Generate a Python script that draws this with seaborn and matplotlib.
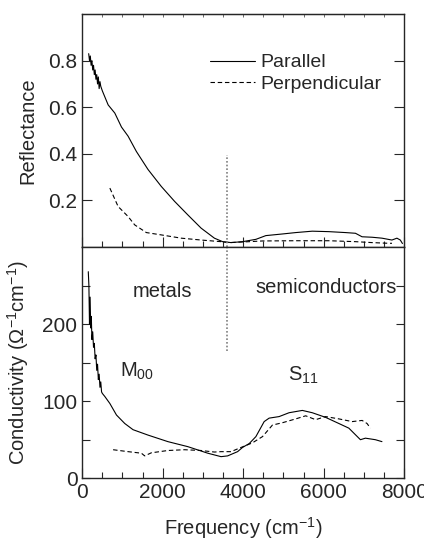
import matplotlib
matplotlib.use('Agg')
import matplotlib.pyplot as plt
import matplotlib.transforms as mtransforms
import seaborn as sns
from matplotlib.ticker import MultipleLocator, FixedLocator

# Reflectance data (top panel)
refl_par_x = [160, 180, 200, 220, 240, 260, 280, 300, 320, 340, 360, 380, 400, 420, 440, 460, 480, 500,
              560, 644, 809, 975, 1139, 1346, 1634, 1965, 2295, 2624, 2955, 3285, 3490, 3698,
              3985, 4317, 4564, 4975, 5307, 5718, 6131, 6545, 6792, 6955, 7203, 7450, 7698, 7822, 7906, 7960]
refl_par_y = [0.83, 0.80, 0.82, 0.78, 0.80, 0.76, 0.78, 0.74, 0.76, 0.72, 0.74, 0.70, 0.73, 0.68, 0.71, 0.69, 0.68, 0.67,
              0.645, 0.61, 0.575, 0.515, 0.476, 0.41, 0.333, 0.26, 0.196, 0.138, 0.081, 0.038, 0.023, 0.019,
              0.023, 0.033, 0.049, 0.056, 0.062, 0.068, 0.066, 0.062, 0.059, 0.044, 0.042, 0.038, 0.030, 0.038, 0.03, 0.015]
refl_perp_x = [686, 891, 1139, 1304, 1594, 1965, 2460, 2955, 3450, 3656, 4151, 4480, 5307, 6131, 6792, 7203, 7616, 7700]
refl_perp_y = [0.253, 0.174, 0.131, 0.095, 0.062, 0.052, 0.038, 0.030, 0.023, 0.019, 0.023, 0.026, 0.027, 0.027,
               0.023, 0.019, 0.016, 0.016]

# Conductivity data (bottom panel)
cond_par_x = [150, 165, 180, 195, 210, 225, 240, 260, 280, 300, 320, 340, 360, 380, 400, 420, 440, 460, 480, 500,
              562, 686, 851, 1057, 1262, 1634, 2129, 2624, 3119, 3450, 3614, 3861, 3985, 4151, 4316, 4522,
              4646, 4894, 5141, 5471, 5718, 6049, 6380, 6627, 6915, 7039, 7287, 7450]
cond_par_y = [268, 250, 200, 235, 195, 210, 180, 190, 170, 175, 155, 160, 140, 148, 128, 135, 118, 125, 112, 110,
              106, 97, 82, 71, 63, 56, 47.5, 41, 32.5, 28, 29, 34.5, 40, 45, 54, 73.5,
              78, 80, 85, 88, 85, 79, 71, 65, 50, 52, 50, 47.5]
cond_perp_x = [767, 1139, 1470, 1552, 1717, 2129, 2543, 2955, 3285, 3450, 3698, 3903, 4233, 4480, 4728, 4975,
               5306, 5554, 5801, 6049, 6380, 6710, 6957, 7080, 7163]
cond_perp_y = [37, 34.5, 32.5, 29, 33, 36, 37, 36, 34, 34.5, 34.5, 39, 46, 54, 69, 72,
               77, 81, 76, 80, 77, 73.5, 75, 71, 65]

sns.set_style('ticks')
plt.rcParams['font.family'] = ['Liberation Sans', 'DejaVu Sans']
plt.rcParams['mathtext.fontset'] = 'custom'
plt.rcParams['mathtext.rm'] = 'Liberation Sans'
plt.rcParams['mathtext.it'] = 'Liberation Sans'

fig = plt.figure(figsize=(4.24, 5.41), dpi=100)
ax1 = fig.add_axes([0.194, 0.5434, 0.759, 0.4306])
ax2 = fig.add_axes([0.194, 0.116, 0.759, 0.4274])

lw = 0.8
dash = (0, (4, 2.5))
sns.lineplot(x=refl_par_x, y=refl_par_y, ax=ax1, color='black', lw=lw, sort=False, estimator=None, label='Parallel')
sns.lineplot(x=refl_perp_x, y=refl_perp_y, ax=ax1, color='black', lw=lw, sort=False, estimator=None,
             linestyle=dash, label='Perpendicular')
sns.lineplot(x=cond_par_x, y=cond_par_y, ax=ax2, color='black', lw=lw, sort=False, estimator=None)
sns.lineplot(x=cond_perp_x, y=cond_perp_y, ax=ax2, color='black', lw=lw, sort=False, estimator=None,
             linestyle=dash)

# dotted divider between metals / semiconductors
ax1.plot([3600, 3600], [0, 0.397], color='gray', lw=1.2, linestyle=(0, (1, 1.2)))
ax2.plot([3600, 3600], [165, 300], color='gray', lw=1.2, linestyle=(0, (1, 1.2)))

for ax in (ax1, ax2):
    ax.set_xlim(0, 8000)
    ax.xaxis.set_major_locator(MultipleLocator(2000))
    ax.xaxis.set_minor_locator(MultipleLocator(500))
    ax.tick_params(which='both', direction='in', width=0.8, labelsize=15)
    ax.tick_params(which='major', length=7)
    ax.tick_params(which='minor', length=4)
    for s in ax.spines.values():
        s.set_linewidth(1.0)

ax1.set_ylim(0, 1.0)
ax1.yaxis.set_major_locator(FixedLocator([0.2, 0.4, 0.6, 0.8]))
ax1.tick_params(axis='x', which='both', top=False, bottom=True, labelbottom=False)
ax1.tick_params(axis='y', which='both', left=True, right=True)
ax1.set_ylabel('Reflectance', fontsize=14.5, labelpad=8)
ax1.set_xlabel('')

# small ticks along the top edge
top = ax1.secondary_xaxis('top')
top.xaxis.set_major_locator(MultipleLocator(500))
top.tick_params(direction='in', length=2.5, width=0.6, labeltop=False, color='#555555')

ax2.set_ylim(0, 300)
ax2.yaxis.set_major_locator(FixedLocator([0, 100, 200]))
ax2.yaxis.set_minor_locator(FixedLocator([50, 150, 250]))
ax2.tick_params(axis='y', which='both', left=True, right=True, length=6)
ax2.tick_params(axis='x', which='both', top=False, bottom=True)
ax2.set_ylabel('Conductivity ($\\Omega^{-1}$cm$^{-1}$)', fontsize=14.5, labelpad=8)
ax2.set_xlabel('Frequency (cm$^{-1}$)', fontsize=14.5, labelpad=9)

ax1.legend(loc='upper right', bbox_to_anchor=(0.985, 0.905), frameon=False, fontsize=14,
           handlelength=2.3, handletextpad=0.3, labelspacing=0.2)

ax2.text(2000, 242, 'metals', fontsize=14.5, ha='center', va='center')
ax2.text(6050, 247, 'semiconductors', fontsize=14.5, ha='center', va='center')
ax2.text(950, 139, 'M$_{00}$', fontsize=14.5, ha='left', va='center')
ax2.text(5120, 134, 'S$_{11}$', fontsize=14.5, ha='left', va='center')

# nudge the last x label so it stays inside the canvas
fig.canvas.draw()
last = ax2.get_xticklabels()[-1]
last.set_transform(last.get_transform() + mtransforms.ScaledTranslation(-3 / 72, 0, fig.dpi_scale_trans))

fig.savefig('out.png', dpi=100)
